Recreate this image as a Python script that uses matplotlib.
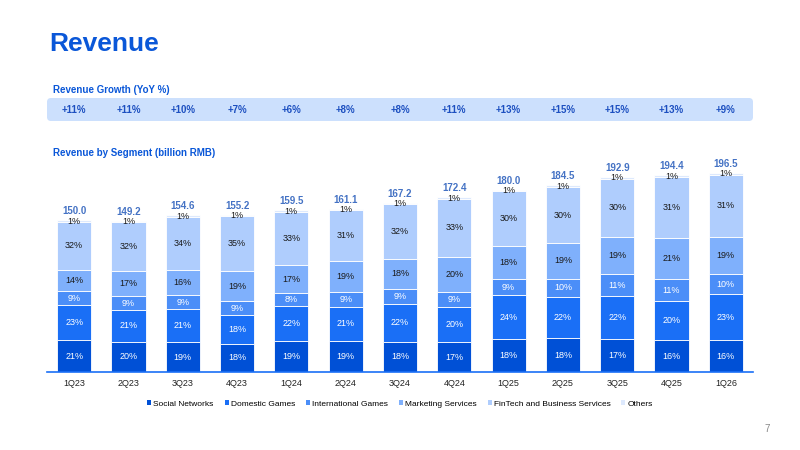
import numpy as np
import matplotlib
matplotlib.use("Agg")
import matplotlib.pyplot as plt
from matplotlib.patches import FancyBboxPatch, Patch

plt.rcParams['font.family'] = ['Liberation Sans', 'DejaVu Sans']

# data
quarters = ["1Q23", "2Q23", "3Q23", "4Q23", "1Q24", "2Q24", "3Q24",
            "4Q24", "1Q25", "2Q25", "3Q25", "4Q25", "1Q26"]
growth = ["+11%", "+11%", "+10%", "+7%", "+6%", "+8%", "+8%",
          "+11%", "+13%", "+15%", "+15%", "+13%", "+9%"]
totals = [150.0, 149.2, 154.6, 155.2, 159.5, 161.1, 167.2,
          172.4, 180.0, 184.5, 192.9, 194.4, 196.5]
segments = ["Social Networks", "Domestic Games", "International Games",
            "Marketing Services", "FinTech and Business Services", "Others"]
social = [21, 20, 19, 18, 19, 19, 18, 17, 18, 18, 17, 16, 16]
domestic = [23, 21, 21, 18, 22, 21, 22, 20, 24, 22, 22, 20, 23]
international = [9, 9, 9, 9, 8, 9, 9, 9, 9, 10, 11, 11, 10]
marketing = [14, 17, 16, 19, 17, 19, 18, 20, 18, 19, 19, 21, 19]
fintech = [32, 32, 34, 35, 33, 31, 32, 33, 30, 30, 30, 31, 31]
others = [1, 1, 1, 1, 1, 1, 1, 1, 1, 1, 1, 1, 1]

colors = ["#0050d6", "#1a6ff6", "#4b8ef8", "#7fb0fc", "#afcdfd", "#dde9fd"]
txt_colors = ["white", "white", "white", "#1a1a1a", "#1a1a1a", "#1a1a1a"]
blue_title = "#0a57d8"

W, H = 800, 450
fig = plt.figure(figsize=(8, 4.5), dpi=100)

# background axes in pixel coords
bg = fig.add_axes([0, 0, 1, 1])
bg.set_xlim(0, W)
bg.set_ylim(H, 0)
bg.axis("off")

bg.text(49, 51, "Revenue", fontsize=19, fontweight="bold", color=blue_title)
bg.text(53, 93, "Revenue Growth (YoY %)", fontsize=7, fontweight="bold",
        color=blue_title)
bg.text(53, 156, "Revenue by Segment (billion RMB)", fontsize=7,
        fontweight="bold", color=blue_title)
bg.add_patch(FancyBboxPatch((47, 98), 706, 23,
                            boxstyle="round,pad=0,rounding_size=4",
                            fc="#cce0fd", ec="none"))
bg.text(767, 432, "7", fontsize=7, color="#888888", ha="center")

n = len(quarters)
step = 706 / n
for i, g in enumerate(growth):
    bg.text(47 + step * (i + 0.5), 110, g, fontsize=7, fontweight="bold",
            color="#1c4fc0", ha="center", va="center")

# bar chart
ax = fig.add_axes([47 / W, 1 - 372 / H, 706 / W, 212 / H])
ax.set_xlim(-0.5, n - 0.5)
ax.set_ylim(0, 212 / 1.013)
x = np.arange(n)
tot = np.array(totals)
shares = [social, domestic, international, marketing, fintech, others]
bottom = np.zeros(n)
for k, sh in enumerate(shares):
    vals = tot * np.array(sh) / 100.0
    ax.bar(x, vals, 0.63, bottom=bottom, color=colors[k], edgecolor="white",
           linewidth=0.6, label=segments[k])
    for i in range(n):
        if k == 5:
            yy = bottom[i] + vals[i] - 1.0
        else:
            yy = bottom[i] + vals[i] / 2
        ax.text(x[i], yy, f"{sh[i]}%", ha="center", va="center",
                fontsize=6.5, color=txt_colors[k])
    bottom += vals

for i in range(n):
    ax.text(x[i], tot[i] + 4, f"{totals[i]:.1f}", ha="center", va="bottom",
            fontsize=7, fontweight="bold", color="#4472c4")

for s in ["top", "right", "left"]:
    ax.spines[s].set_visible(False)
ax.spines["bottom"].set_color("#1a6ff6")
ax.spines["bottom"].set_linewidth(1.2)
ax.set_yticks([])
ax.set_xticks(x)
ax.set_xticklabels(quarters, fontsize=6.5, color="#222222")
ax.tick_params(axis="x", length=0, pad=5)

handles = [Patch(fc=c, ec="none") for c in colors]
fig.legend(handles, segments, loc="center", bbox_to_anchor=(0.5, 1 - 404 / H),
           ncol=6, frameon=False, fontsize=6, handlelength=0.5,
           handleheight=0.5, handletextpad=0.25, columnspacing=1.3)

fig.savefig("out.png", dpi=100)
